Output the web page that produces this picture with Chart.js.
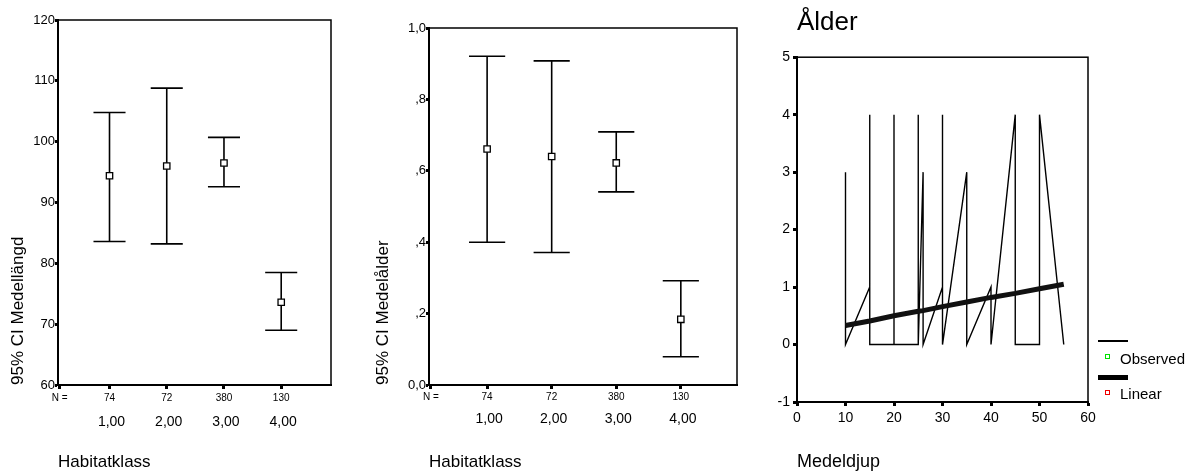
<!DOCTYPE html>
<html>
<head>
<meta charset="utf-8">
<script src="https://cdn.jsdelivr.net/npm/chart.js@4/dist/chart.umd.min.js"></script>
<style>
  body { margin: 0; background: #fff; width: 1193px; height: 475px; overflow: hidden; position: relative; font-family: 'Liberation Sans', Arial, sans-serif; }
  canvas { position: absolute; top: 0; }
  .lg { position: absolute; }
  .txt { position: absolute; font-size: 15px; line-height: 15px; color: #000; white-space: nowrap; }
</style>
</head>
<body>
<canvas id="c1" width="340" height="475" style="left:0"></canvas>
<canvas id="c2" width="390" height="475" style="left:360px"></canvas>
<canvas id="c3" width="330" height="475" style="left:770px"></canvas>

<div class="lg" style="left:1098px;top:340px;width:30px;height:1.5px;background:#000"></div>
<div class="lg" style="left:1105px;top:354px;width:3px;height:3px;border:1px solid #00e000;background:#fff"></div>
<div class="txt" style="left:1120px;top:350.5px">Observed</div>
<div class="lg" style="left:1098px;top:375px;width:30px;height:4.5px;background:#000"></div>
<div class="lg" style="left:1105px;top:390px;width:3px;height:3px;border:1px solid #f00000;background:#fff"></div>
<div class="txt" style="left:1120px;top:385.5px">Linear</div>

<script>
// categories (Habitatklass) and group sizes
const categories = ['1,00', '2,00', '3,00', '4,00'];
const catPos = [1, 2, 3, 4];
const nLabels = ['74', '72', '380', '130'];

// 95% CI Medellängd
const lengthMean = [94.4, 96.0, 96.5, 73.6];
const lengthLow = [83.6, 83.2, 92.6, 69.0];
const lengthHigh = [104.8, 108.8, 100.7, 78.5];
const lengthTicks = [60, 70, 80, 90, 100, 110, 120];

// 95% CI Medelålder
const ageMean = [0.661, 0.640, 0.622, 0.184];
const ageLow = [0.400, 0.371, 0.541, 0.079];
const ageHigh = [0.921, 0.908, 0.709, 0.292];
const ageTicks = [0, 0.2, 0.4, 0.6, 0.8, 1.0];
const ageTickLabels = ['0,0', ',2', ',4', ',6', ',8', '1,0'];

// Ålder vs Medeldjup, observed (in data order) and linear fit
const obsX = [10, 10, 10, 10, 10, 15, 15, 15, 15, 15, 20, 20, 20, 20, 25, 25, 25, 25, 26, 26, 30, 30, 30, 30, 35, 35, 40, 40, 45, 45, 45, 50, 50, 55];
const obsY = [3, 0, 2, 1, 0, 1, 0, 4, 3, 0, 0, 4, 2, 0, 0, 4, 1, 0, 3, 0, 1, 4, 3, 0, 3, 0, 1, 0, 4, 2, 0, 0, 4, 0];
const linX = [10, 15, 20, 25, 26, 30, 35, 40, 45, 50, 55];
const linY = [0.33, 0.41, 0.50, 0.58, 0.59, 0.66, 0.74, 0.82, 0.89, 0.97, 1.05];
const depthTicks = [0, 10, 20, 30, 40, 50, 60];
const ageAxisTicks = [-1, 0, 1, 2, 3, 4, 5];

Chart.defaults.font.family = "'Liberation Sans', Arial, sans-serif";
Chart.defaults.color = '#000';

const capHalf = 0.28;   // half width of the error bar caps (x units)
const nPos = 0.13;      // where "N =" sits on the x axis

const boxPlugin = {
  id: 'box',
  afterDraw(chart) {
    const { ctx, chartArea: a } = chart;
    ctx.save();
    ctx.strokeStyle = '#000';
    ctx.lineWidth = 1.5;
    ctx.strokeRect(a.left, a.top, a.right - a.left, a.bottom - a.top);
    ctx.restore();
  }
};

function barPoints(low, high) {
  const pts = [];
  catPos.forEach((x, i) => {
    pts.push({ x, y: low[i] }, { x, y: high[i] }, { x, y: null });
    pts.push({ x: x - capHalf, y: high[i] }, { x: x + capHalf, y: high[i] }, { x, y: null });
    pts.push({ x: x - capHalf, y: low[i] }, { x: x + capHalf, y: low[i] }, { x, y: null });
  });
  return pts;
}

function errorChart(id, c) {
  const nRow = ['N ='].concat(nLabels);
  return new Chart(document.getElementById(id), {
    type: 'scatter',
    data: {
      datasets: [
        {
          data: catPos.map((x, i) => ({ x, y: c.mean[i] })),
          pointStyle: 'rect', pointRadius: 4.5,
          pointBackgroundColor: '#fff', pointBorderColor: '#000', pointBorderWidth: 1.3
        },
        {
          data: barPoints(c.low, c.high),
          showLine: true, borderColor: '#000', borderWidth: 1.6, pointRadius: 0
        }
      ]
    },
    options: {
      responsive: false, animation: false, events: [],
      layout: { padding: { top: c.top, right: c.right, left: 0, bottom: 0 } },
      plugins: { legend: { display: false }, tooltip: { enabled: false } },
      scales: {
        x: {
          type: 'linear', position: 'bottom', weight: 0, min: 0.1, max: 4.87,
          afterBuildTicks: s => { s.ticks = [nPos].concat(catPos).map(v => ({ value: v })); },
          ticks: { font: { size: 10 }, padding: c.nPad, autoSkip: false, maxRotation: 0, callback: (v, i) => nRow[i] },
          grid: { drawOnChartArea: false, tickLength: 4, tickWidth: 3, tickColor: '#000' },
          border: { color: '#000', width: 2 },
          afterFit: s => { s.height = 20; }
        },
        cat: {
          type: 'linear', position: 'bottom', weight: 1, min: 0.1, max: 4.87,
          afterBuildTicks: s => { s.ticks = catPos.map(v => ({ value: v })); },
          ticks: { font: { size: 14 }, padding: c.catPad, labelOffset: 2, autoSkip: false, maxRotation: 0, callback: (v, i) => categories[i] },
          grid: { display: false, drawTicks: false },
          border: { display: false },
          title: { display: true, text: 'Habitatklass', align: 'start', font: { size: 17 }, padding: { top: 0, bottom: 2 } },
          afterFit: s => { s.height = 70; }
        },
        y: {
          min: c.ticks[0], max: c.ticks[c.ticks.length - 1],
          afterBuildTicks: s => { s.ticks = c.ticks.map(v => ({ value: v })); },
          ticks: { font: { size: 13 }, padding: 0, callback: (v, i) => c.tickLabels[i] },
          grid: { drawOnChartArea: false, tickLength: 3, tickWidth: 3, tickColor: '#000' },
          border: { color: '#000', width: 2 },
          title: { display: true, text: c.title, align: 'start', font: { size: 17 }, padding: { top: c.titlePad, bottom: 0 } },
          afterFit: s => { s.width = c.yWidth; }
        }
      }
    },
    plugins: [boxPlugin]
  });
}

errorChart('c1', {
  mean: lengthMean, low: lengthLow, high: lengthHigh,
  ticks: lengthTicks, tickLabels: lengthTicks.map(String),
  title: '95% CI Medellängd',
  top: 20, right: 9, yWidth: 58, titlePad: 8, nPad: 3, catPad: 9
});

errorChart('c2', {
  mean: ageMean, low: ageLow, high: ageHigh,
  ticks: ageTicks, tickLabels: ageTickLabels,
  title: '95% CI Medelålder',
  top: 28, right: 13, yWidth: 69, titlePad: 13, nPad: 2, catPad: 6
});

new Chart(document.getElementById('c3'), {
  type: 'scatter',
  data: {
    datasets: [
      {
        data: linX.map((x, i) => ({ x, y: linY[i] })),
        showLine: true, borderColor: '#111', borderWidth: 5, pointRadius: 0
      },
      {
        data: obsX.map((x, i) => ({ x, y: obsY[i] })),
        showLine: true, borderColor: '#000', borderWidth: 1.4, pointRadius: 0
      }
    ]
  },
  options: {
    responsive: false, animation: false, events: [],
    layout: { padding: { top: 0, right: 12, left: 0, bottom: 0 } },
    plugins: {
      legend: { display: false }, tooltip: { enabled: false },
      title: {
        display: true, text: 'Ålder', align: 'start', fullSize: false,
        font: { size: 26, weight: 'normal' }, color: '#000', padding: { top: 7, bottom: 19 }
      }
    },
    scales: {
      x: {
        type: 'linear', min: 0, max: 60,
        afterBuildTicks: s => { s.ticks = depthTicks.map(v => ({ value: v })); },
        ticks: { font: { size: 14 }, padding: 4, maxRotation: 0, autoSkip: false },
        grid: { drawOnChartArea: false, tickLength: 4, tickWidth: 3, tickColor: '#000' },
        border: { color: '#000', width: 2 },
        title: { display: true, text: 'Medeldjup', align: 'start', font: { size: 18 }, padding: { top: 0, bottom: 2.5 } },
        afterFit: s => { s.height = 73; }
      },
      y: {
        min: -1, max: 5,
        afterBuildTicks: s => { s.ticks = ageAxisTicks.map(v => ({ value: v })); },
        ticks: { font: { size: 14 }, padding: 3 },
        grid: { drawOnChartArea: false, tickLength: 4, tickWidth: 3, tickColor: '#000' },
        border: { color: '#000', width: 2 },
        afterFit: s => { s.width = 27; }
      }
    }
  },
  plugins: [boxPlugin]
});
</script>
</body>
</html>
